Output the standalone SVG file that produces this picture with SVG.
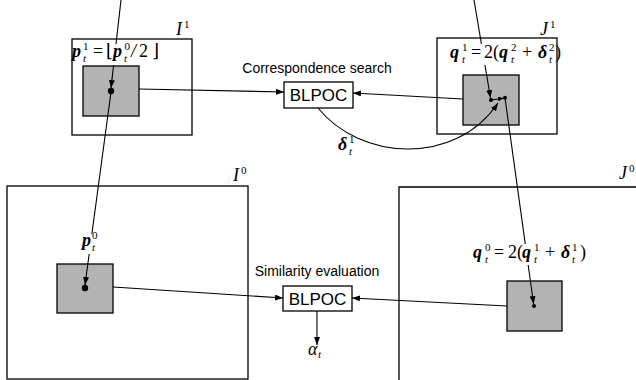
<svg xmlns="http://www.w3.org/2000/svg" width="636" height="380" viewBox="0 0 636 380">
<defs>
<style>
.frame{fill:none;stroke:#000;stroke-width:1.3}
.patch{fill:#b3b3b3;stroke:#000;stroke-width:1.3}
.box{fill:#fff;stroke:#000;stroke-width:1.3}
.ln{fill:none;stroke:#000;stroke-width:1.1}
.sans{font-family:"Liberation Sans",Arial,sans-serif;fill:#000}
.m{font-family:"Liberation Serif","DejaVu Serif",serif;font-size:18px;fill:#000}
.v{font-weight:bold;font-style:italic}
.i{font-style:italic}
.s{font-size:11px}
.bg{fill:#fff}
</style>
<marker id="ah" viewBox="0 0 8 6" markerWidth="8" markerHeight="6" refX="8" refY="3" orient="auto" markerUnits="userSpaceOnUse">
<path d="M0,0 L8,3 L0,6 z" fill="#000"/>
</marker>
<marker id="ahs" viewBox="0 0 8 6" markerWidth="6" markerHeight="5" refX="8" refY="3" orient="auto" markerUnits="userSpaceOnUse">
<path d="M0,0 L8,3 L0,6 z" fill="#000"/>
</marker>
</defs>

<g id="I1">
<rect class="frame" x="72" y="39" width="120" height="96"/>
<rect class="patch" x="83" y="66" width="56" height="50"/>
<text class="m i" x="176" y="35">I</text>
<text class="m s" x="184" y="28">1</text>
</g>

<g id="J1">
<rect class="frame" x="437" y="38" width="120" height="96"/>
<rect class="patch" x="463" y="75" width="56" height="50"/>
<text class="m i" x="540" y="35">J</text>
<text class="m s" x="550" y="28">1</text>
</g>

<g id="I0">
<rect class="frame" x="7" y="186" width="241" height="193"/>
<rect class="patch" x="57" y="264" width="56" height="49"/>
<text class="m i" x="233" y="181">I</text>
<text class="m s" x="241" y="174">0</text>
</g>

<g id="J0">
<path class="frame" d="M399,380 V187 H640"/>
<rect class="patch" x="507" y="281" width="55" height="50"/>
<text class="m i" x="619" y="179">J</text>
<text class="m s" x="629" y="172">0</text>
</g>

<g id="blpoc1">
<text class="sans" x="317" y="73" font-size="14" text-anchor="middle">Correspondence search</text>
<rect class="box" x="284" y="82" width="69" height="26"/>
<text class="sans" x="318.5" y="101" font-size="17" text-anchor="middle">BLPOC</text>
</g>

<g id="blpoc2">
<text class="sans" x="317" y="276" font-size="14" text-anchor="middle">Similarity evaluation</text>
<rect class="box" x="283" y="286" width="69" height="25"/>
<text class="sans" x="317.5" y="305" font-size="17" text-anchor="middle">BLPOC</text>
</g>

<g id="connectors">
<path class="ln" d="M121,0 L111,88" marker-end="url(#ah)"/>
<path class="ln" d="M111,92 L85,285" marker-end="url(#ah)"/>
<path class="ln" d="M139,89 L284,92" marker-end="url(#ah)"/>
<path class="ln" d="M463,99 L353,93" marker-end="url(#ah)"/>
<path class="ln" d="M318,108 C360,160 455,167 498,103" marker-end="url(#ah)"/>
<path class="ln" d="M474,0 L490.5,98" marker-end="url(#ah)"/>
<path class="ln" d="M491,100 L504,98.2" marker-end="url(#ahs)"/>
<path class="ln" d="M505,98 L533.6,304" marker-end="url(#ah)"/>
<path class="ln" d="M113,287 L283,298" marker-end="url(#ah)"/>
<path class="ln" d="M507,306 L352,298" marker-end="url(#ah)"/>
<path class="ln" d="M317,311 L317,345" marker-end="url(#ah)"/>
<circle cx="111" cy="91" r="3.2"/>
<circle cx="85" cy="288" r="3.2"/>
<circle cx="491" cy="100" r="2"/>
<circle cx="505" cy="97.8" r="2"/>
<circle cx="534" cy="306" r="2"/>
</g>

<g id="label-p1">
<rect class="bg" x="73" y="44" width="90" height="21"/>
<text class="m"><tspan class="v" x="72" y="57">p</tspan><tspan class="s" x="83" y="49.5">1</tspan><tspan class="s i" x="83" y="62">t</tspan><tspan x="93" y="57">=</tspan><tspan x="106" y="57">⌊</tspan><tspan class="v" x="113" y="57">p</tspan><tspan class="s" x="124.5" y="49.5">0</tspan><tspan class="s i" x="124" y="62">t</tspan><tspan class="i" x="131" y="57">/</tspan><tspan x="139" y="57">2</tspan><tspan x="152" y="57">⌋</tspan></text>
</g>

<g id="label-p0">
<rect class="bg" x="81" y="234" width="16" height="20"/>
<text class="m"><tspan class="v" x="82" y="246">p</tspan><tspan class="s" x="92" y="238.5">0</tspan><tspan class="s i" x="92" y="251">t</tspan></text>
</g>

<g id="label-q1">
<rect class="bg" x="447" y="44" width="109" height="21"/>
<text class="m"><tspan class="v" x="450" y="58">q</tspan><tspan class="s" x="462" y="50.5">1</tspan><tspan class="s i" x="462" y="63">t</tspan><tspan x="471" y="58">=</tspan><tspan x="484" y="58">2(</tspan><tspan class="v" x="499" y="58">q</tspan><tspan class="s" x="511" y="50.5">2</tspan><tspan class="s i" x="511" y="63">t</tspan><tspan x="522" y="58">+</tspan><tspan class="v" x="538" y="58">δ</tspan><tspan class="s" x="549" y="50.5">2</tspan><tspan class="s i" x="549" y="63">t</tspan><tspan x="555" y="58">)</tspan></text>
</g>

<g id="label-q0">
<rect class="bg" x="471" y="244" width="116" height="21"/>
<text class="m"><tspan class="v" x="473" y="258">q</tspan><tspan class="s" x="485" y="250.5">0</tspan><tspan class="s i" x="485" y="263">t</tspan><tspan x="494" y="258">=</tspan><tspan x="508" y="258">2(</tspan><tspan class="v" x="522" y="258">q</tspan><tspan class="s" x="534" y="250.5">1</tspan><tspan class="s i" x="534" y="263">t</tspan><tspan x="545" y="258">+</tspan><tspan class="v" x="561" y="258">δ</tspan><tspan class="s" x="572" y="250.5">1</tspan><tspan class="s i" x="572" y="263">t</tspan><tspan x="580" y="258">)</tspan></text>
</g>

<g id="label-d1">
<text class="m"><tspan class="v" x="338" y="150">δ</tspan><tspan class="s" x="349" y="142.5">1</tspan><tspan class="s i" x="349" y="155">t</tspan></text>
</g>

<g id="label-alpha">
<text class="m"><tspan class="i" x="308" y="355">α</tspan><tspan class="s i" x="318" y="358">t</tspan></text>
</g>
</svg>
